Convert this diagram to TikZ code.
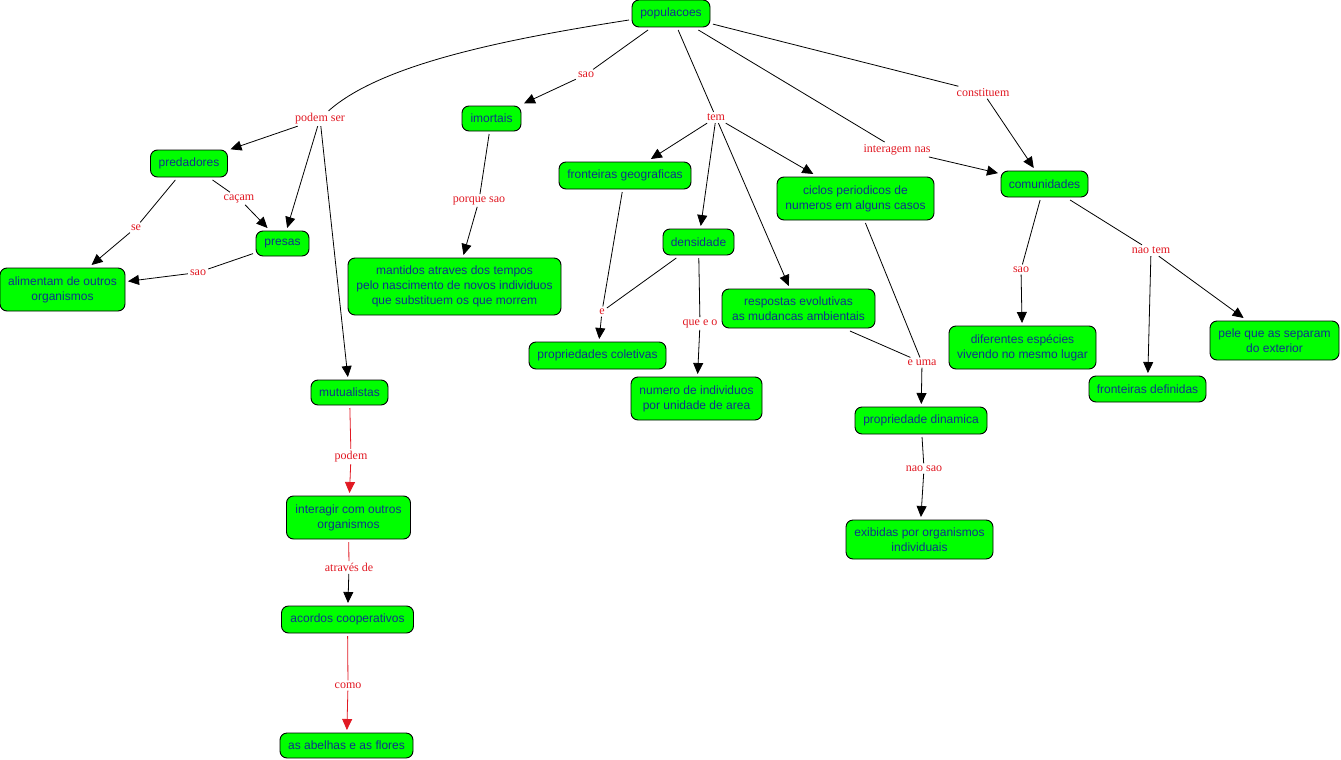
\documentclass[tikz,border=0pt]{standalone}
\usepackage{fontspec}
\setmainfont{Liberation Serif}
\setsansfont{Liberation Sans}
\usetikzlibrary{arrows.meta}
\definecolor{boxgreen}{RGB}{0,255,0}
\definecolor{txtblue}{RGB}{15,50,140}
\definecolor{lblred}{RGB}{225,25,35}
\begin{document}
\begin{tikzpicture}[x=1pt,y=-1pt,
 box/.style={draw=black, line width=0.9pt, fill=boxgreen, rounded corners=7pt, text=txtblue,
   font=\sffamily\fontsize{12}{15}\selectfont, align=center, inner sep=0pt, outer sep=3pt},
 lbl/.style={text=lblred, font=\rmfamily\fontsize{12}{14}\selectfont, inner sep=2pt, yshift=-1.5pt},
 conn/.style={draw=black, line width=0.8pt},
 arr/.style={conn, -{Triangle[length=11pt,width=10pt]}},
 rconn/.style={draw=lblred, line width=0.8pt},
 rarr/.style={rconn, -{Triangle[length=11pt,width=10pt]}},
]
\useasboundingbox[fill=white] (0,0) rectangle (1341,760);

% concept boxes
\node[box, minimum width=78pt, minimum height=27pt] (pop) at (671,13.5) {populacoes};
\node[box, minimum width=77pt, minimum height=27pt] (pred) at (189,163.5) {predadores};
\node[box, minimum width=53pt, minimum height=25pt] (pres) at (282.5,243.5) {presas};
\node[box, minimum width=125pt, minimum height=43pt] (alim) at (62.5,289.5) {alimentam de outros\\organismos};
\node[box, minimum width=59pt, minimum height=25pt] (imor) at (491.5,118.5) {imortais};
\node[box, minimum width=213pt, minimum height=57pt] (mant) at (454.5,286.5) {mantidos atraves dos tempos\\pelo nascimento de novos individuos\\que substituem os que morrem};
\node[box, minimum width=132pt, minimum height=27pt] (frg) at (625,175.5) {fronteiras geograficas};
\node[box, minimum width=71pt, minimum height=26pt] (dens) at (698.5,242) {densidade};
\node[box, minimum width=137pt, minimum height=27pt] (propc) at (597.5,355.5) {propriedades coletivas};
\node[box, minimum width=131pt, minimum height=43pt] (num) at (696.5,398.5) {numero de individuos\\por unidade de area};
\node[box, minimum width=153pt, minimum height=39pt] (resp) at (798.5,308.5) {respostas evolutivas\\as mudancas ambientais};
\node[box, minimum width=157pt, minimum height=43pt] (cicl) at (855.5,198.5) {ciclos periodicos de\\numeros em alguns casos};
\node[box, minimum width=87pt, minimum height=26pt] (comu) at (1044.5,184) {comunidades};
\node[box, minimum width=147pt, minimum height=43pt] (dif) at (1022.5,347.5) {diferentes espécies\\vivendo no mesmo lugar};
\node[box, minimum width=117pt, minimum height=26pt] (frd) at (1147.5,389) {fronteiras definidas};
\node[box, minimum width=129pt, minimum height=39pt] (pele) at (1274.5,340.5) {pele que as separam\\do exterior};
\node[box, minimum width=132pt, minimum height=27pt] (propd) at (921,420.5) {propriedade dinamica};
\node[box, minimum width=147pt, minimum height=39pt] (exib) at (919.5,539.5) {exibidas por organismos\\individuais};
\node[box, minimum width=77pt, minimum height=25pt] (mutu) at (349.5,392.5) {mutualistas};
\node[box, minimum width=124pt, minimum height=43pt] (inte) at (348.5,517.5) {interagir com outros\\organismos};
\node[box, minimum width=132pt, minimum height=27pt] (acor) at (347.5,619.5) {acordos cooperativos};
\node[box, minimum width=133pt, minimum height=25pt] (abel) at (346.5,745.5) {as abelhas e as flores};

% linking phrases
\node[lbl] (lPodem) at (320,117) {podem ser};
\node[lbl] (lSaoTop) at (586,73) {sao};
\node[lbl] (lTem) at (716,116) {tem};
\node[lbl] (lInter) at (897,148) {interagem nas};
\node[lbl] (lConst) at (983,91) {constituem};
\node[lbl] (lCacam) at (239,197) {caçam};
\node[lbl] (lSe) at (136,226) {se};
\node[lbl] (lSaoL) at (198,271) {sao};
\node[lbl] (lPorque) at (479,199) {porque sao};
\node[lbl] (lE) at (602,310) {e};
\node[lbl] (lQue) at (700,322) {que e o};
\node[lbl] (lEuma) at (922,361) {e uma};
\node[lbl] (lSaoR) at (1021,268) {sao};
\node[lbl] (lNaoTem) at (1151,249) {nao tem};
\node[lbl] (lNaoSao) at (924,467) {nao sao};
\node[lbl] (lPodemM) at (351,455) {podem};
\node[lbl] (lAtraves) at (349,566) {através de};
\node[lbl] (lComo) at (348,684) {como};

% connectors
\draw[conn] (pop) .. controls (500,40) and (380,65) .. (lPodem);
\draw[arr] (lPodem) -- (pred);
\draw[arr] (lPodem) -- (pres);
\draw[arr] (lPodem) -- (mutu);

\draw[conn] (pred) -- (lCacam);
\draw[arr] (lCacam) -- (pres);
\draw[conn] (pred) -- (lSe);
\draw[arr] (lSe) -- (alim);
\draw[conn] (pres) -- (lSaoL);
\draw[arr] (lSaoL) -- (alim);

\draw[conn] (pop) -- (lSaoTop);
\draw[arr] (lSaoTop) -- (imor);
\draw[conn] (imor) -- (lPorque);
\draw[arr] (lPorque) -- (mant);

\draw[conn] (pop) -- (lTem);
\draw[arr] (lTem) -- (frg);
\draw[arr] (lTem) -- (dens);
\draw[arr] (lTem) -- (resp);
\draw[arr] (lTem) -- (cicl);

\draw[conn] (pop) -- (lInter);
\draw[arr] (lInter) -- (comu);
\draw[conn] (pop) -- (lConst);
\draw[arr] (lConst) -- (comu);

\draw[conn] (frg) -- (lE);
\draw[conn] (dens) -- (lE);
\draw[arr] (lE) -- (propc);
\draw[conn] (dens) -- (lQue);
\draw[arr] (lQue) -- (num);

\draw[conn] (resp) -- (lEuma);
\draw[conn] (cicl) -- (lEuma);
\draw[arr] (lEuma) -- (propd);
\draw[conn] (propd) -- (lNaoSao);
\draw[arr] (lNaoSao) -- (exib);

\draw[conn] (comu) -- (lSaoR);
\draw[arr] (lSaoR) -- (dif);
\draw[conn] (comu) -- (lNaoTem);
\draw[arr] (lNaoTem) -- (frd);
\draw[arr] (lNaoTem) -- (pele);

\draw[rconn] (mutu) -- (lPodemM);
\draw[rarr] (lPodemM) -- (inte);
\draw[rconn] (inte) -- (lAtraves);
\draw[arr] (lAtraves) -- (acor);
\draw[rconn] (acor) -- (lComo);
\draw[rarr] (lComo) -- (abel);
\end{tikzpicture}
\end{document}
